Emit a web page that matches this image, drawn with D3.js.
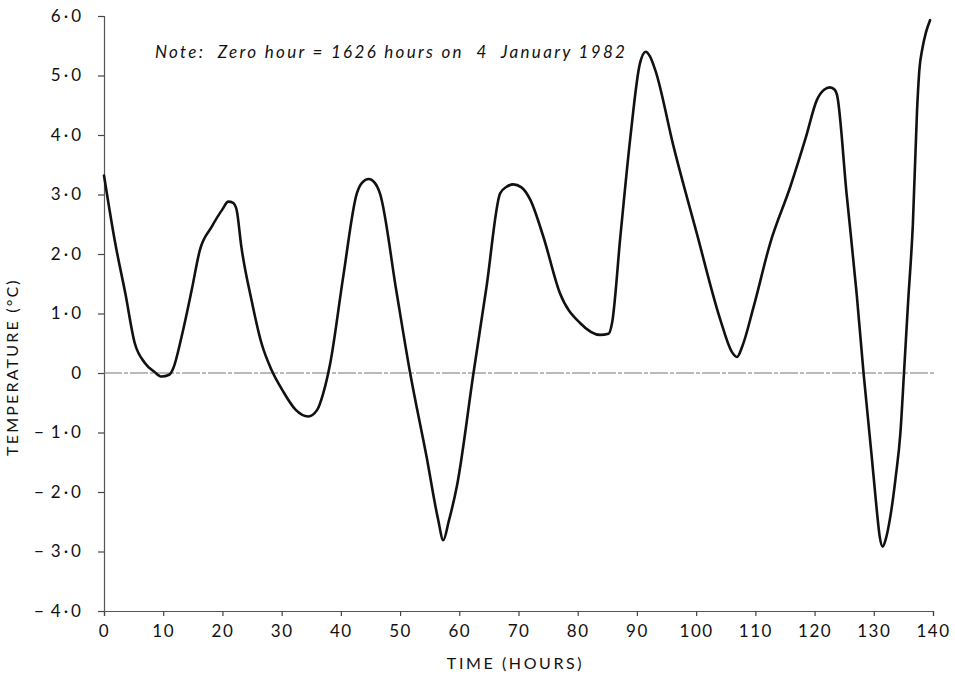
<!DOCTYPE html>
<html>
<head>
<meta charset="utf-8">
<script src="https://cdnjs.cloudflare.com/ajax/libs/d3/7.8.5/d3.min.js"></script>
<style>
  body { margin: 0; background: #fff; }
  text { font-family: Lato, "DejaVu Sans", sans-serif; fill: #111; }
</style>
</head>
<body>
<div id="dataviz"></div>
<script>
// temperature record
var hours = [0, 1.9, 3.6, 5.2, 6.9, 8.5, 9.7, 11.0, 11.7, 13.1, 14.8, 16.2, 18.2, 20.0, 21.0,
    21.8, 22.4, 23.2, 24.9, 26.6, 28.3, 30.2, 32.3, 34.5, 36.0, 37.0, 38.2, 40.4, 42.7, 43.6,
    44.7, 45.7, 46.6, 49.4, 51.7, 54.5, 56.4, 57.3, 58.2, 59.6, 62.4, 64.6, 66.9, 68.0, 69.1,
    70.5, 72.0, 74.2, 77.0, 80.4, 83.8, 85.2, 85.8, 87.2, 88.9, 90.5, 91.5, 92.2, 93.1, 96.2,
    100.1, 104.1, 106.0, 106.9, 107.8, 109.7, 112.5, 115.9, 118.5, 120.4, 121.6, 122.6, 123.4,
    123.8, 125.4, 127.1, 128.3, 129.6, 130.5, 131.0, 131.5, 132.0, 132.8, 133.7, 134.5, 135.1,
    135.8, 136.6, 137.3, 137.7, 138.2, 138.8, 139.5];
var temps = [3.32, 2.18, 1.34, 0.5, 0.17, 0.02, -0.06, -0.03, 0.08, 0.61, 1.39, 2.07, 2.46, 2.75, 2.88,
    2.86, 2.74, 2.12, 1.23, 0.5, 0.05, -0.3, -0.61, -0.73, -0.62, -0.35, 0.16, 1.62, 3.02, 3.2,
    3.26, 3.2, 3.02, 1.36, 0.0, -1.42, -2.45, -2.81, -2.5, -1.9, 0.0, 1.45, 3.02, 3.13, 3.17,
    3.12, 2.91, 2.29, 1.34, 0.84, 0.64, 0.66, 0.84, 2.29, 3.97, 5.2, 5.4, 5.32, 5.09, 3.8,
    2.35, 0.89, 0.36, 0.27, 0.45, 1.11, 2.18, 3.13, 3.95, 4.59, 4.76, 4.8, 4.76,
    4.67, 3.02, 1.34, -0.03, -1.35, -2.3, -2.75, -2.92, -2.8, -2.41, -1.75, -1.0, 0.0,
    1.2, 2.5, 4.4, 5.1, 5.45, 5.72, 5.93];

var xTicks = [0, 10, 20, 30, 40, 50, 60, 70, 80, 90, 100, 110, 120, 130, 140];
var yTicks = [6, 5, 4, 3, 2, 1, 0, -1, -2, -3, -4];
var yTickLabels = ["6\u00b70", "5\u00b70", "4\u00b70", "3\u00b70", "2\u00b70", "1\u00b70", "0",
    "\u2212\u200a1\u00b70", "\u2212\u200a2\u00b70", "\u2212\u200a3\u00b70", "\u2212\u200a4\u00b70"];
var noteText = "Note:  Zero hour = 1626 hours on  4  January 1982";

var data = hours.map(function(h, i) { return {t: h, v: temps[i]}; });

var W = 955, H = 677;
var margin = {top: 16, right: 22, bottom: 66, left: 104};
var width = W - margin.left - margin.right;
var height = H - margin.top - margin.bottom;

var svg = d3.select("#dataviz")
.append("svg")
    .attr("width", W)
    .attr("height", H)
.append("g")
    .attr("transform", "translate(" + margin.left + "," + margin.top + ")");

var x = d3.scaleLinear().domain([0, 140]).range([0, width]);
var y = d3.scaleLinear().domain([-4, 6]).range([height, 0]);

// x axis
var xAxis = svg.append("g")
    .attr("transform", "translate(0," + height + ")")
    .call(d3.axisBottom(x).tickValues(xTicks).tickSize(5).tickPadding(9).tickFormat(d3.format("d")));

// y axis
var yAxis = svg.append("g")
    .call(d3.axisLeft(y).tickValues(yTicks).tickSize(6).tickPadding(14)
        .tickFormat(function(d, i) { return yTickLabels[i]; }));

[xAxis, yAxis].forEach(function(a) {
    a.select(".domain").attr("stroke", "#555").attr("stroke-width", 1.2);
    a.selectAll(".tick line").attr("stroke", "#444").attr("stroke-width", 1.2);
    a.selectAll(".tick text")
        .style("font-family", "Lato, 'DejaVu Sans', sans-serif")
        .style("font-size", "17px")
        .attr("fill", "#111");
});
xAxis.selectAll(".tick text").style("letter-spacing", "1.5px");
yAxis.selectAll(".tick text").style("letter-spacing", "3px");

// zero line
svg.append("line")
    .attr("x1", x(0)).attr("x2", x(140) + 2)
    .attr("y1", y(0)).attr("y2", y(0))
    .attr("stroke", "#777")
    .attr("stroke-width", 1.2)
    .attr("stroke-dasharray", "18,2,4,2");

// temperature curve
svg.append("path")
    .datum(data)
    .attr("fill", "none")
    .attr("stroke", "#111")
    .attr("stroke-width", 2.6)
    .attr("stroke-linejoin", "round")
    .attr("stroke-linecap", "round")
    .attr("d", d3.line()
        .curve(d3.curveMonotoneX)
        .x(function(d) { return x(d.t); })
        .y(function(d) { return y(d.v); }));

// note
svg.append("text")
    .attr("x", 51)
    .attr("y", 42)
    .style("font-size", "17px")
    .style("font-style", "italic")
    .style("letter-spacing", "2.3px")
    .style("white-space", "pre")
    .text(noteText);

// x axis label
svg.append("text")
    .attr("x", x(69.5))
    .attr("y", height + 58)
    .style("font-size", "16px")
    .style("letter-spacing", "2.6px")
    .style("text-anchor", "middle")
    .text("TIME (HOURS)");

// y axis label
svg.append("text")
    .attr("transform", "translate(" + (-86) + "," + y(0.1) + ") rotate(-90)")
    .style("font-size", "16px")
    .style("letter-spacing", "2.2px")
    .style("text-anchor", "middle")
    .text("TEMPERATURE (°C)");
</script>
</body>
</html>
